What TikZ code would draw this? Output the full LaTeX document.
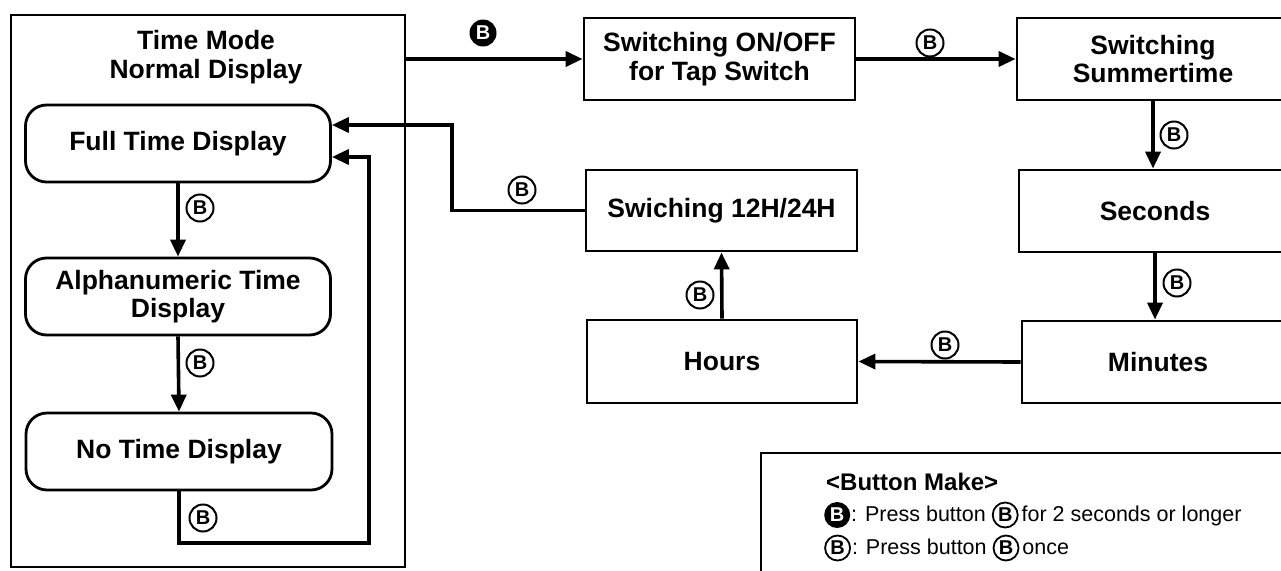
\documentclass[tikz,border=0pt]{standalone}
\usepackage{fontspec}
\setmainfont{Liberation Sans}
\usetikzlibrary{arrows.meta}
\newcommand\boxfont{\fontsize{26.5}{28.5}\selectfont\bfseries}
\newcommand\cbfont{\fontsize{20}{20}\selectfont\bfseries}
\newcommand\leghead{\fontsize{24}{26}\selectfont\bfseries}
\newcommand\legtext{\fontsize{21.5}{24}\selectfont}
\newcommand\fB{\tikz[baseline=(fbx.base)]\node[fill=black,circle,inner sep=0pt,minimum size=26pt,text=white,font=\cbfont](fbx){B};}
\newcommand\cB{\tikz[baseline=(cbx.base)]\node[draw,circle,line width=1.8pt,inner sep=0pt,minimum size=25pt,font=\cbfont](cbx){B};}
\begin{document}
\begin{tikzpicture}[x=1pt,y=-1pt,
  box/.style={draw,line width=2.8pt,font=\boxfont,align=center,inner sep=0pt},
  rbox/.style={box,rounded corners=21pt},
  arr/.style={line width=3.6pt,-{Triangle[length=17pt,width=15pt]}},
  cb/.style={draw,circle,line width=2pt,inner sep=0pt,minimum size=27pt,font=\cbfont},
  fb/.style={fill=black,circle,inner sep=0pt,minimum size=27pt,text=white,font=\cbfont}]
\clip (0,0) rectangle (1281,570);
\fill[white] (0,0) rectangle (1281,570);
% left container
\node[box,minimum width=394,minimum height=552] (tm) at (208,291) {};
\node[font=\boxfont,align=center,inner sep=0pt] (title) at (206,57) {Time Mode\\Normal Display};
\node[rbox,minimum width=305,minimum height=77] (full) at (178,143.5) {Full Time Display};
\node[rbox,minimum width=305,minimum height=77] (alpha) at (178,296.5) {Alphanumeric Time\\Display};
\node[rbox,minimum width=306,minimum height=77] (no) at (179,451.5) {No Time Display};
% right boxes
\node[box,minimum width=271,minimum height=82] (onoff) at (719.5,59) {Switching ON/OFF\\for Tap Switch};
\node[box,minimum width=272,minimum height=82] (summer) at (1153,59) {Switching\\Summertime};
\node[box,minimum width=272,minimum height=82] (seconds) at (1155,211) {Seconds};
\node[box,minimum width=272,minimum height=82] (minutes) at (1158,362) {Minutes};
\node[box,minimum width=271,minimum height=81] (sw12) at (721.5,210.5) {Swiching 12H/24H};
\node[box,minimum width=270,minimum height=83] (hours) at (722,361.5) {Hours};
% legend
\node[draw,line width=2.4pt,anchor=north west,minimum width=600,minimum height=200] (leg) at (760,452) {};
\node[anchor=west,font=\leghead,inner sep=0pt] (lh) at (826,482) {<Button Make>};
\node[anchor=west,font=\legtext,inner sep=0pt] (lb1) at (824,515) {\fB\kern1pt: Press button \cB\kern3pt for 2 seconds or longer};
\node[anchor=west,font=\legtext,inner sep=0pt] (lb2) at (824,548) {\cB\kern1pt: Press button \cB\kern3pt once};
% connectors
\draw[arr] (tm.east |- onoff.west) -- (onoff.west);
\draw[arr] (onoff.east) -- (summer.west);
\draw[arr] (summer.south) -- (summer.south |- seconds.north);
\draw[arr] (seconds.south) -- (seconds.south |- minutes.north);
\draw[arr] (minutes.west) -- (hours.east);
\draw[arr] (hours.north) -- (sw12.south);
\draw[arr] (sw12.west) -- (452,210.5) -- (452,125) -- (full.east |- 0,125);
\draw[arr] (full.south) -- (alpha.north);
\draw[arr] (alpha.south) -- (no.north);
\draw[arr] (no.south) -- (179,543) -- (369,543) -- (369,157) -- (full.east |- 0,157);
% labels
\node[fb] (l0) at (483,33) {B};
\node[cb] (l1) at (930,43) {B};
\node[cb] (l2) at (1174,135) {B};
\node[cb] (l3) at (1177,283) {B};
\node[cb] (l4) at (945,345) {B};
\node[cb] (l5) at (700,295) {B};
\node[cb] (l6) at (522,190) {B};
\node[cb] (l7) at (200,208) {B};
\node[cb] (l8) at (200,363) {B};
\node[cb] (l9) at (203,518) {B};
\end{tikzpicture}
\end{document}
